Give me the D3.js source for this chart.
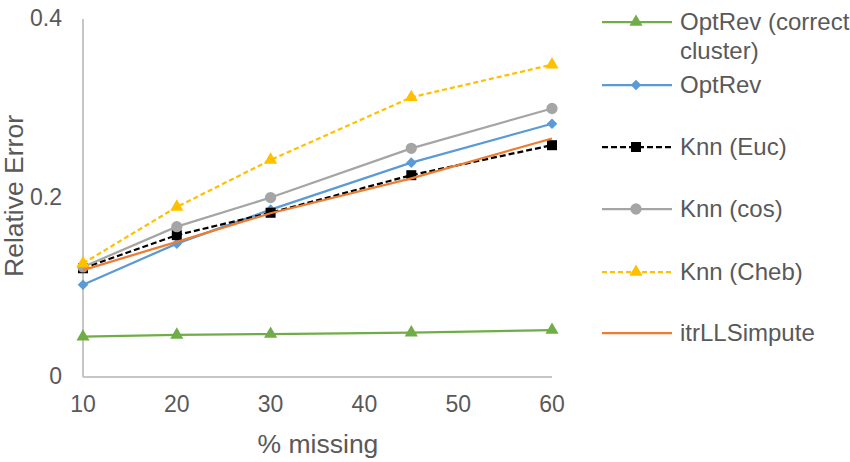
<!DOCTYPE html>
<html lang="en">
<head>
<meta charset="UTF-8" />
<title>Relative Error vs % missing</title>
<script src="https://d3js.org/d3.v7.min.js"></script>
<style>
  body { margin: 0; background: #fff; }
  svg { display: block; font-family: "Liberation Sans", Arial, sans-serif; }
  .tick-label { fill: #595959; font-size: 23px; }
  .axis-title { fill: #595959; font-size: 26.5px; }
  .legend-text { fill: #595959; font-size: 24px; }
</style>
</head>
<body>
<svg id="chart" width="850" height="462"></svg>
<script>
const missing = [10, 20, 30, 45, 60];
const seriesNames = ["OptRev (correct cluster)", "OptRev", "Knn (Euc)", "Knn (cos)", "Knn (Cheb)", "itrLLSimpute"];
const optRevCorrect = [0.045, 0.047, 0.048, 0.0495, 0.0525];
const optRev = [0.103, 0.149, 0.187, 0.2395, 0.283];
const knnEuc = [0.1215, 0.1585, 0.1835, 0.2255, 0.259];
const knnCos = [0.123, 0.168, 0.2005, 0.2555, 0.300];
const knnCheb = [0.127, 0.190, 0.2425, 0.3125, 0.349];
const itrLLS = [0.1195, 0.151, 0.183, 0.222, 0.2665];
const xTicks = [10, 20, 30, 40, 50, 60];
const yTicks = [0, 0.2, 0.4];

const styles = [
  { color: "#70ad47", dash: null, marker: "triangle" },
  { color: "#5b9bd5", dash: null, marker: "diamond" },
  { color: "#000000", dash: "6,3", marker: "square" },
  { color: "#a5a5a5", dash: null, marker: "circle" },
  { color: "#ffc000", dash: "5,3", marker: "triangle" },
  { color: "#ed7d31", dash: null, marker: null }
];
const allValues = [optRevCorrect, optRev, knnEuc, knnCos, knnCheb, itrLLS];
const series = seriesNames.map((name, i) => ({ name, values: allValues[i], ...styles[i] }));

const svg = d3.select("#chart");
const x = d3.scaleLinear().domain([10, 60]).range([83, 552]);
const y = d3.scaleLinear().domain([0, 0.4]).range([377, 19]);

const axisColor = "#c6c6c6";
svg.append("line").attr("x1", x(10)).attr("x2", x(10)).attr("y1", y(0.4)).attr("y2", y(0))
  .attr("stroke", axisColor).attr("stroke-width", 2);
svg.append("line").attr("x1", x(10)).attr("x2", x(60)).attr("y1", y(0)).attr("y2", y(0))
  .attr("stroke", axisColor).attr("stroke-width", 2);

svg.selectAll(".xl").data(xTicks).enter().append("text")
  .attr("class", "tick-label").attr("x", d => x(d)).attr("y", 412)
  .attr("text-anchor", "middle").text(d => d);
svg.selectAll(".yl").data(yTicks).enter().append("text")
  .attr("class", "tick-label").attr("x", 62).attr("y", d => y(d) + 7)
  .attr("text-anchor", "end").text(d => d === 0 ? "0" : d.toFixed(1));

svg.append("text").attr("class", "axis-title")
  .attr("transform", "translate(23,196) rotate(-90)")
  .attr("text-anchor", "middle").text("Relative Error");
svg.append("text").attr("class", "axis-title")
  .attr("x", 318).attr("y", 453).attr("text-anchor", "middle").text("% missing");

function drawMarker(g, m, color, cx, cy) {
  if (!m) return;
  let type = d3.symbolCircle, size = 100, rot = 0;
  if (m === "triangle") { type = d3.symbolTriangle; size = 75; }
  if (m === "diamond") { type = d3.symbolSquare; size = 56; rot = 45; }
  if (m === "square") { type = d3.symbolSquare; size = 100; }
  g.append("path")
    .attr("d", d3.symbol().type(type).size(size)())
    .attr("transform", `translate(${cx},${cy}) rotate(${rot})`)
    .attr("fill", color);
}

const line = d3.line().x((d, i) => x(missing[i])).y(d => y(d));

series.forEach(s => {
  const g = svg.append("g");
  g.append("path").datum(s.values).attr("d", line)
    .attr("fill", "none").attr("stroke", s.color).attr("stroke-width", 2.25)
    .attr("stroke-dasharray", s.dash);
  s.values.forEach((v, i) => drawMarker(g, s.marker, s.color, x(missing[i]), y(v)));
});

// legend
const legendY = [22, 85, 147, 209, 272, 333];
series.forEach((s, i) => {
  const g = svg.append("g");
  const ly = legendY[i];
  g.append("line").attr("x1", 602).attr("x2", 672).attr("y1", ly).attr("y2", ly)
    .attr("stroke", s.color).attr("stroke-width", 2.25).attr("stroke-dasharray", s.dash);
  drawMarker(g, s.marker, s.color, 636, ly);
  const t = g.append("text").attr("class", "legend-text").attr("x", 680).attr("y", ly + 8);
  if (i === 0) {
    t.append("tspan").attr("x", 680).text("OptRev (correct");
    t.append("tspan").attr("x", 680).attr("dy", 28.5).text("cluster)");
  } else {
    t.text(s.name);
  }
});
</script>
</body>
</html>
